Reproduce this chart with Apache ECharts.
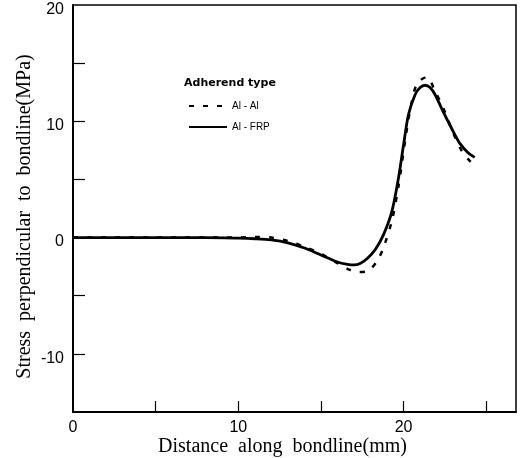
<!DOCTYPE html>
<html><head><meta charset="utf-8">
<script src="https://cdn.jsdelivr.net/npm/echarts@6/dist/echarts.min.js"></script>
<style>html,body{margin:0;padding:0;background:#fff}#c{width:523px;height:458px}</style>
</head><body><div id="c"></div>
<script>
// Al - Al (dashed)
const alAlX = [0, 2, 4, 6, 8, 10, 11, 12, 13, 14, 15, 16, 16.7, 17.3, 17.8, 18.4, 18.8, 19.3, 19.7, 20.1, 20.4, 20.8, 21.4, 21.9, 22.5, 23.0, 23.5, 24.0, 24.4];
const alAlY = [0, 0, 0, 0, 0, 0, 0.05, 0, -0.3, -0.8, -1.4, -2.2, -2.75, -2.95, -2.9, -2.0, -0.8, 1.5, 4.5, 8.4, 11.0, 13.2, 13.8, 12.6, 10.8, 9.0, 7.5, 6.6, 6.2];
// Al - FRP (solid)
const alFrpX = [0, 2, 4, 6, 8, 10, 11, 12, 13, 14, 15, 16, 16.6, 17.0, 17.4, 17.8, 18.3, 18.8, 19.3, 19.7, 20.0, 20.3, 20.7, 21.0, 21.3, 21.6, 21.9, 22.4, 22.9, 23.4, 23.9, 24.3];
const alFrpY = [0, 0, 0, 0, 0, -0.05, -0.1, -0.2, -0.45, -0.9, -1.5, -2.1, -2.3, -2.35, -2.2, -1.8, -1.0, 0.3, 2.3, 5.2, 8.0, 10.6, 12.3, 12.9, 13.1, 12.9, 12.3, 10.8, 9.4, 8.1, 7.3, 6.9];
const xLabels = [0, 10, 20];
const xTicks = [5, 10, 15, 20, 25];
const yLabels = [-10, 0, 10, 20];
const yTicks = [-10, -5, 5, 10, 15];
const seriesNames = ['Al - Al', 'Al - FRP'];
const legendTitle = 'Adherend type';
const xTitle = 'Distance  along  bondline(mm)';
const yTitle = 'Stress  perpendicular  to  bondline(MPa)';

const zip = (xs, ys) => xs.map((x, i) => [x, ys[i]]);
const chart = echarts.init(document.getElementById('c'), null, {renderer: 'canvas'});
chart.setOption({
  animation: false,
  backgroundColor: '#fff',
  grid: {left: 73, right: 7, top: 5, bottom: 46, outerBoundsMode: 'none', containLabel: false,
         show: true, borderColor: '#000', borderWidth: 1.5, backgroundColor: 'transparent'},
  xAxis: {
    type: 'value', min: 0, max: 26.8,
    name: xTitle, nameLocation: 'middle', nameGap: 25, nameMoveOverlap: false,
    nameTextStyle: {fontFamily: 'Liberation Serif', fontSize: 20, color: '#000', padding: [0, 24, 0, 0]},
    axisLine: {show: true, onZero: false, lineStyle: {color: '#000', width: 2}},
    axisTick: {show: true, inside: true, length: 11, customValues: xTicks, lineStyle: {color: '#000', width: 1.2}},
    axisLabel: {customValues: xLabels, fontFamily: 'Liberation Sans', fontSize: 16, color: '#000', margin: 8},
    splitLine: {show: false}
  },
  yAxis: {
    type: 'value', min: -15, max: 20,
    name: yTitle, nameLocation: 'middle', nameGap: 38, nameRotate: 90, nameMoveOverlap: false,
    nameTextStyle: {fontFamily: 'Liberation Serif', fontSize: 20, color: '#000', padding: [0, 16, 0, 0]},
    axisLine: {show: true, onZero: false, lineStyle: {color: '#000', width: 2}},
    axisTick: {show: true, inside: true, length: 12, customValues: yTicks, lineStyle: {color: '#000', width: 1.2}},
    axisLabel: {customValues: yLabels, fontFamily: 'Liberation Sans', fontSize: 16, color: '#000', margin: 9,
                formatter: '{a|{value}}', rich: {a: {fontFamily: 'Liberation Sans', fontSize: 16, color: '#000', padding: [9, 0, 0, 0]}}},
    splitLine: {show: false}
  },
  legend: {
    orient: 'vertical', left: 183, top: 96, itemWidth: 38, itemHeight: 8, itemGap: 11,
    data: seriesNames,
    itemStyle: {opacity: 0},
    textStyle: {fontFamily: 'Liberation Sans', fontSize: 10, color: '#000'}
  },
  graphic: [{type: 'text', left: 184, top: 78, style: {text: legendTitle, font: 'bold 11px "DejaVu Sans"', fill: '#000'}}],
  series: [
    {name: seriesNames[0], type: 'line', data: zip(alAlX, alAlY), smooth: 0.3, showSymbol: false, symbol: 'none',
     lineStyle: {color: '#000', width: 2.5, type: [5, 9]}, itemStyle: {color: '#000'}},
    {name: seriesNames[1], type: 'line', data: zip(alFrpX, alFrpY), smooth: 0.3, showSymbol: false, symbol: 'none',
     lineStyle: {color: '#000', width: 2.8}, itemStyle: {color: '#000'}}
  ]
});
</script></body></html>
